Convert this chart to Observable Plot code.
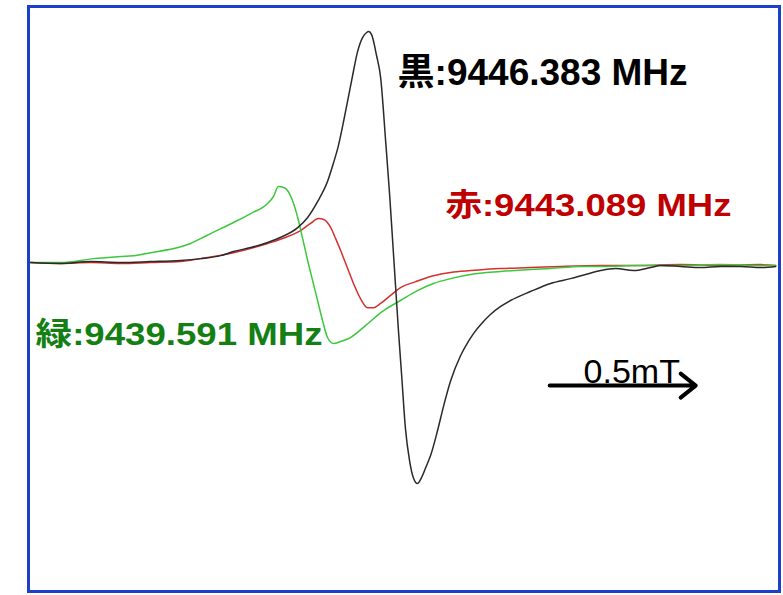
<!DOCTYPE html>
<html>
<head>
<meta charset="utf-8">
<script src="https://cdn.jsdelivr.net/npm/d3@7"></script>
<script src="https://cdn.jsdelivr.net/npm/@observablehq/plot@0.6"></script>
<style>
  body { margin: 0; background: #fff; }
</style>
</head>
<body>
<div id="chart"></div>
<script>
// Field offset (mT, relative to black zero crossing) and EPR derivative signal (arb. units)
const blackField = [-1.257,-1.154,-1.051,-0.949,-0.846,-0.743,-0.675,-0.606,-0.562,-0.503,-0.445,-0.394,-0.342,-0.308,-0.274,-0.240,-0.219,-0.205,-0.185,-0.168,-0.154,-0.137,-0.120,-0.106,-0.099,-0.089,-0.072,-0.058,-0.041,-0.027,-0.017,-0.007,0.003,0.014,0.027,0.041,0.055,0.068,0.082,0.099,0.113,0.137,0.158,0.182,0.216,0.240,0.260,0.291,0.318,0.353,0.387,0.455,0.524,0.592,0.644,0.695,0.747,0.808,0.866,0.901,0.969,1.038,1.106,1.175,1.243,1.295];
const blackSignal = [0,-0.4,0.4,0,0.4,0.9,1.7,3.0,4.8,6.5,8.7,11.3,15.2,19.6,26.5,35.2,43.5,49.6,61.3,72.2,81.3,91.7,97.8,100,100.4,99.1,90.0,80.4,53.0,29.1,9.6,-10.0,-29.6,-49.1,-72.2,-86.1,-93.9,-96.1,-93.5,-88.3,-83.9,-73.0,-62.2,-51.3,-40.4,-34.8,-30.9,-26.1,-22.6,-19.1,-16.5,-12.6,-9.1,-7.0,-5.2,-3.5,-2.6,-3.5,-2.2,-1.3,-1.7,-2.2,-1.7,-1.7,-2.2,-1.7];

const redField = [-1.257,-1.154,-1.051,-0.949,-0.846,-0.743,-0.675,-0.562,-0.445,-0.384,-0.332,-0.298,-0.271,-0.253,-0.229,-0.212,-0.195,-0.171,-0.151,-0.127,-0.103,-0.082,-0.058,-0.024,0.010,0.062,0.123,0.182,0.250,0.353,0.455,0.558,0.695,0.832,0.969,1.106,1.243,1.295];
const redSignal = [0,-0.4,0,-0.4,0,0.4,1.7,4.3,8.3,10.9,13.9,17.0,19.1,18.7,15.2,10.4,5.2,-2.6,-9.1,-15.7,-19.6,-19.6,-17.8,-14.3,-10.9,-8.3,-5.7,-4.3,-3.5,-2.6,-2.2,-1.7,-1.3,-1.3,-0.9,-1.3,-0.9,-1.3];

const greenField = [-1.257,-1.154,-1.041,-0.949,-0.904,-0.846,-0.767,-0.709,-0.675,-0.640,-0.562,-0.503,-0.445,-0.425,-0.408,-0.390,-0.377,-0.360,-0.342,-0.325,-0.308,-0.291,-0.274,-0.257,-0.240,-0.219,-0.195,-0.161,-0.110,-0.048,0.010,0.068,0.123,0.182,0.250,0.353,0.455,0.524,0.627,0.695,0.832,0.969,1.106,1.243,1.295];
const greenSignal = [0,0,1.7,2.6,3.0,4.3,6.1,8.3,10.4,12.6,17.4,21.3,25.7,28.7,33.0,32.6,31.3,27.0,19.6,10.4,0.9,-7.8,-16.5,-25.2,-32.6,-35.2,-34.3,-32.6,-27.4,-20.9,-16.5,-12.2,-9.1,-7.0,-5.2,-3.9,-3.0,-2.6,-1.7,-1.7,-1.3,-1.3,-0.9,-1.3,-1.3];

// Labels (text, anchor field, anchor signal)
const labelTexts = ["黒:9446.383 MHz", "赤:9443.089 MHz", "緑:9439.591 MHz"];
const labelField = [0.000, 0.164, -1.240];
const labelSignal = [88.7, 30.0, -26.1];

// Scale bar
const scaleBarStart = 0.521;   // mT
const scaleBarLength = 0.5;    // mT
const scaleBarSignal = -53.5;
const scaleBarText = "0.5mT";
const scaleBarTextField = 0.637;
const scaleBarTextSignal = -41.7;

const toRows = (f, s) => f.map((x, i) => ({field: x, signal: s[i]}));
const black = toRows(blackField, blackSignal);
const red = toRows(redField, redSignal);
const green = toRows(greenField, greenSignal);
const labels = labelTexts.map((t, i) => ({text: t, field: labelField[i], signal: labelSignal[i]}));

const font = "'Liberation Sans', Arial, 'Noto Sans CJK JP', sans-serif";

const chart = Plot.plot({
  width: 783,
  height: 595,
  marginLeft: 28,
  marginRight: 4,
  marginTop: 6,
  marginBottom: 4,
  x: {domain: [-1.264, 1.308], axis: null},
  y: {domain: [-143.0, 111.3], axis: null},
  style: {fontFamily: font, background: "#fff"},
  marks: [
    Plot.frame({stroke: "#1c3fcc", strokeWidth: 3}),
    Plot.line(red, {x: "field", y: "signal", stroke: "#d43030", strokeWidth: 1.5, curve: "monotone-x"}),
    Plot.line(green, {x: "field", y: "signal", stroke: "#3cc83c", strokeWidth: 1.5, curve: "monotone-x"}),
    Plot.line(black, {x: "field", y: "signal", stroke: "#2a2a2a", strokeWidth: 1.5, curve: "monotone-x"}),
    Plot.text([labels[0]], {x: "field", y: "signal", text: "text", fill: "#000", fontSize: 37, fontWeight: "bold", textAnchor: "start", lineAnchor: "top"}),
    Plot.text([labels[1]], {x: "field", y: "signal", text: "text", fill: "#c00000", fontSize: 32, fontWeight: "bold", textAnchor: "start", lineAnchor: "top"}),
    Plot.text([labels[2]], {x: "field", y: "signal", text: "text", fill: "#148014", fontSize: 32, fontWeight: "bold", textAnchor: "start", lineAnchor: "top"}),
    Plot.arrow([{x1: scaleBarStart, x2: scaleBarStart + scaleBarLength, y: scaleBarSignal}], {
      x1: "x1", x2: "x2", y1: "y", y2: "y", stroke: "#000", strokeWidth: 4, headLength: 7.2, headAngle: 77, strokeLinejoin: "round"
    }),
    Plot.text([{field: scaleBarTextField, signal: scaleBarTextSignal, text: scaleBarText}], {
      x: "field", y: "signal", text: "text", fill: "#000", fontSize: 34, textAnchor: "start", lineAnchor: "top"
    })
  ]
});

// match the reference's label widths
const labelWidths = {"黒:9446.383 MHz": 290, "赤:9443.089 MHz": 286, "緑:9439.591 MHz": 287};
d3.select(chart).selectAll("text").each(function() {
  const w = labelWidths[this.textContent];
  if (w) { this.setAttribute("textLength", w); this.setAttribute("lengthAdjust", "spacingAndGlyphs"); }
});

document.getElementById("chart").appendChild(chart);
</script>
</body>
</html>
